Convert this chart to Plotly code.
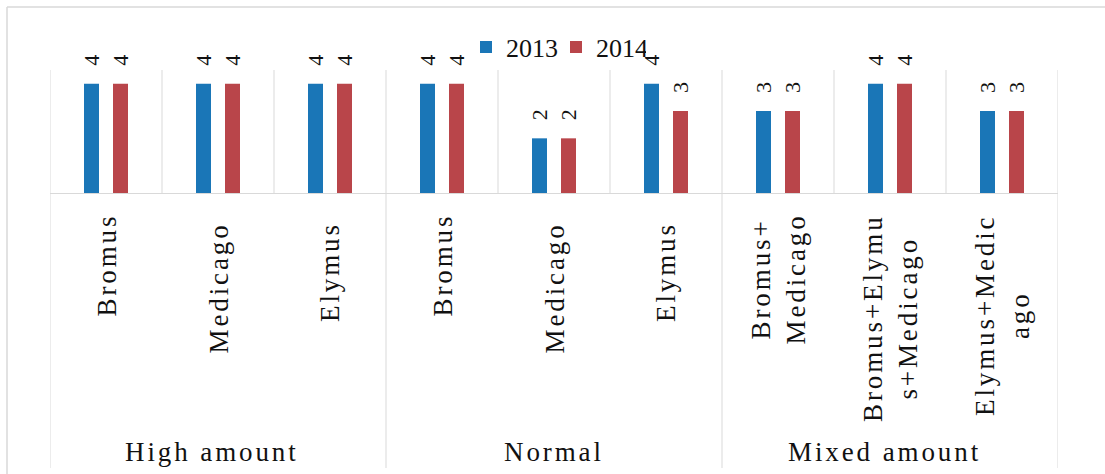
import plotly.graph_objects as go

# ---- data ----
categories = ["Bromus", "Medicago", "Elymus",
              "Bromus", "Medicago", "Elymus",
              "Bromus+<br>Medicago", "Bromus+Elymu<br>s+Medicago", "Elymus+Medic<br>ago"]
groups = ["High amount", "Normal", "Mixed amount"]
group_sizes = [3, 3, 3]
series_names = ["2013", "2014"]
values_2013 = [4, 4, 4, 4, 2, 4, 3, 4, 3]
values_2014 = [4, 4, 4, 4, 2, 3, 3, 4, 3]

# ---- style ----
W, H = 1105, 474
L, R, T, B = 50, 47, 70, 281
plot_w = W - L - R
plot_h = H - T - B
FONT = "Liberation Serif, Times New Roman, serif"
BLUE = "#1a76b7"
RED = "#b9454a"
GRID = "#d9d9d9"
TXT = "#111111"
SPACING = "letter-spacing:2.9px"
LBL_SIZE = 27
bar_w = 15 / 112
offsets = [-22 / 112, 7 / 112]
label_drop = [0, 9, 8, 0, 9, 8, 0, 0, 0]
group_xshift = [-6, 0, -6]

xs = list(range(len(categories)))
fig = go.Figure()
for name, vals, col, off in zip(series_names, [values_2013, values_2014], [BLUE, RED], offsets):
    fig.add_trace(go.Bar(x=xs, y=vals, name=name, marker=dict(color=col, line=dict(width=0)),
                         width=bar_w, offset=off))

annotations = []
# data labels
for vals, off in zip([values_2013, values_2014], offsets):
    for x, v in zip(xs, vals):
        annotations.append(dict(x=x + off + bar_w / 2, y=v, xref="x", yref="y", text=str(v),
                                showarrow=False, textangle=-90, yanchor="bottom", xanchor="center",
                                yshift=16, font=dict(family=FONT, size=22, color=TXT)))

def spaced(t):
    return "<br>".join("<span style='%s'>%s</span>" % (SPACING, ln) for ln in t.split("<br>"))

# category labels
for x, c, d in zip(xs, categories, label_drop):
    annotations.append(dict(x=x, y=0, xref="x", yref="y", text=spaced(c), showarrow=False,
                            textangle=-90, yanchor="top", xanchor="center", align="center",
                            yshift=-19 - d, font=dict(family=FONT, size=LBL_SIZE, color=TXT)))

# group labels
start = 0
bounds = [-0.5]
for g, n, dx in zip(groups, group_sizes, group_xshift):
    center = start + (n - 1) / 2
    annotations.append(dict(x=center, y=0, xref="x", yref="y", text=spaced(g), showarrow=False,
                            yanchor="middle", xanchor="center", yshift=-259, xshift=dx,
                            font=dict(family=FONT, size=LBL_SIZE, color=TXT)))
    start += n
    bounds.append(start - 0.5)

shapes = []
# vertical gridlines in plot area
for i in range(len(categories) + 1):
    shapes.append(dict(type="line", xref="x", yref="paper", x0=i - 0.5, x1=i - 0.5, y0=0, y1=1,
                       line=dict(color=GRID, width=1)))
# group separators below axis
ybot = (plot_h - (468 - T)) / plot_h
for b in bounds:
    shapes.append(dict(type="line", xref="x", yref="paper", x0=b, x1=b, y0=ybot, y1=0,
                       line=dict(color=GRID, width=1)))
# outer chart border (left and top)
px = lambda p: (p - L) / plot_w
py = lambda p: (T + plot_h - p) / plot_h
shapes.append(dict(type="line", xref="paper", yref="paper", x0=px(7), x1=px(7), y0=py(H + 5), y1=py(7),
                   line=dict(color=GRID, width=1.5)))
shapes.append(dict(type="line", xref="paper", yref="paper", x0=px(7), x1=px(W + 5), y0=py(7), y1=py(7),
                   line=dict(color=GRID, width=1.5)))

fig.update_layout(
    width=W, height=H,
    margin=dict(l=L, r=R, t=T, b=B, pad=0),
    paper_bgcolor="white", plot_bgcolor="white",
    barmode="overlay",
    showlegend=True,
    legend=dict(orientation="h", x=px(466), xanchor="left", y=py(47), yanchor="middle",
                entrywidth=45, entrywidthmode="pixels",
                font=dict(family=FONT, size=26, color=TXT), bgcolor="rgba(0,0,0,0)",
                itemclick=False, itemdoubleclick=False),
    xaxis=dict(range=[-0.5, len(categories) - 0.5], showticklabels=False, showgrid=False,
               zeroline=False, showline=True, linecolor=GRID, linewidth=1, ticks=""),
    yaxis=dict(range=[0, 4.5], visible=False, showgrid=False, zeroline=False),
    annotations=annotations,
    shapes=shapes,
)

fig.write_html("out.html")
